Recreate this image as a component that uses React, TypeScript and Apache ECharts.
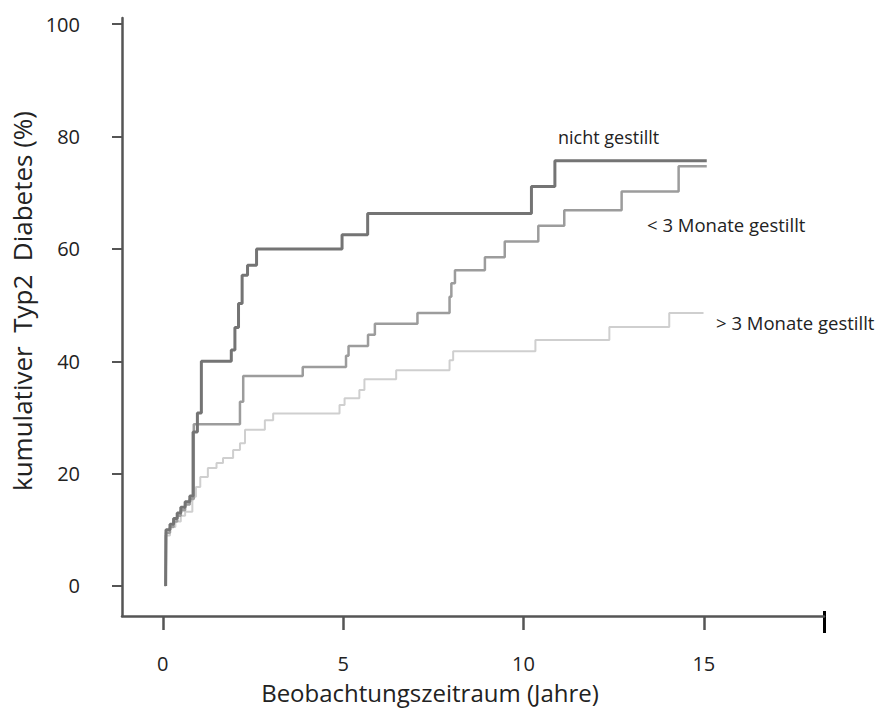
import React, { useEffect, useRef } from "react";
import * as echarts from "echarts";

const xTicks = [0, 5, 10, 15];
const yTicks = [0, 20, 40, 60, 80, 100];

const xTitle = "Beobachtungszeitraum (Jahre)";
const yTitle = "kumulativer  Typ2  Diabetes (%)";

const seriesNames = ["nicht gestillt", "< 3 Monate gestillt", "> 3 Monate gestillt"];

// nicht gestillt (dark)
const nichtT = [0.08, 0.09, 0.2, 0.3, 0.4, 0.5, 0.62, 0.75, 0.84, 0.96, 1.07, 1.9, 2.0, 2.1, 2.2, 2.35, 2.6, 4.97, 5.68, 10.22, 10.87, 15.08];
const nichtV = [0, 10, 11, 12, 13, 14, 15, 16, 27.4, 30.8, 40, 42, 46, 50.3, 55.3, 57.1, 60, 62.5, 66.3, 71.1, 75.7, 75.7];

// < 3 Monate gestillt (medium)
const kurzT = [0.08, 0.09, 0.2, 0.3, 0.4, 0.5, 0.62, 0.75, 0.86, 2.14, 2.23, 3.88, 5.08, 5.15, 5.69, 5.88, 7.06, 7.95, 8.0, 8.1, 8.93, 9.48, 10.41, 11.13, 12.72, 14.3, 15.08];
const kurzV = [0, 9.5, 10.5, 11.5, 12.5, 13.5, 14.5, 15.5, 28.8, 32.8, 37.4, 39.0, 41.0, 42.7, 44.7, 46.7, 48.6, 51.5, 53.9, 56.2, 58.5, 61.3, 64.1, 66.9, 70.2, 74.7, 74.7];

// > 3 Monate gestillt (light)
const langT = [0.05, 0.07, 0.2, 0.35, 0.5, 0.62, 0.82, 0.92, 1.04, 1.25, 1.49, 1.67, 1.95, 2.14, 2.28, 2.83, 3.06, 4.9, 5.04, 5.45, 5.59, 6.47, 7.95, 8.05, 10.33, 12.38, 14.04, 14.99];
const langV = [0, 9, 10.5, 11.5, 12.5, 13.2, 15.9, 17.6, 19.4, 21, 21.9, 22.8, 24.2, 25.4, 27.8, 29.5, 30.7, 32.2, 33.4, 34.9, 36.8, 38.4, 40.2, 41.8, 43.8, 46.1, 48.6, 48.6];

const zip = (t: number[], v: number[]) => t.map((x, i) => [x, v[i]]);

const FONT = "'Open Sans', sans-serif";
const TEXT = "#222";
const AXIS = "#555";

export default function App() {
  const ref = useRef<HTMLDivElement>(null);
  useEffect(() => {
    if (!ref.current) return;
    const chart = echarts.init(ref.current, null, { renderer: "svg" });
    chart.setOption({
      animation: false,
      backgroundColor: "#fff",
      grid: { left: 122, top: 18, right: 57, bottom: 95, containLabel: false },
      xAxis: {
        type: "value",
        min: -1.13,
        max: 18.33,
        axisLine: { show: true, onZero: false, lineStyle: { color: AXIS, width: 2.5 } },
        axisTick: { show: true, customValues: xTicks, length: 14, lineStyle: { color: AXIS, width: 2.5 } },
        axisLabel: { customValues: xTicks, margin: 37, fontSize: 20, color: TEXT, fontFamily: FONT },
        splitLine: { show: false },
      },
      yAxis: {
        type: "value",
        min: -5.34,
        max: 101.1,
        axisLine: { show: true, onZero: false, lineStyle: { color: AXIS, width: 2.5 } },
        axisTick: { show: true, customValues: yTicks, length: 10, lineStyle: { color: AXIS, width: 2 } },
        axisLabel: { customValues: yTicks, margin: 42, fontSize: 20, color: TEXT, fontFamily: FONT },
        splitLine: { show: false },
      },
      series: [
        {
          name: seriesNames[2],
          type: "line",
          step: "end",
          showSymbol: false,
          data: zip(langT, langV),
          lineStyle: { color: "#cfcfcf", width: 2 },
        },
        {
          name: seriesNames[1],
          type: "line",
          step: "end",
          showSymbol: false,
          data: zip(kurzT, kurzV),
          lineStyle: { color: "#9c9c9c", width: 2.5 },
        },
        {
          name: seriesNames[0],
          type: "line",
          step: "end",
          showSymbol: false,
          data: zip(nichtT, nichtV),
          lineStyle: { color: "#747474", width: 3 },
        },
      ],
      graphic: [
        {
          type: "text",
          x: 22,
          y: 301,
          rotation: Math.PI / 2,
          style: { text: yTitle, fill: TEXT, font: `26px ${FONT}`, textAlign: "center", textVerticalAlign: "middle" },
        },
        {
          type: "text",
          x: 430,
          y: 692,
          style: { text: xTitle, fill: TEXT, font: `24px ${FONT}`, textAlign: "center", textVerticalAlign: "middle" },
        },
        {
          type: "text",
          x: 558,
          y: 137,
          style: { text: seriesNames[0], fill: TEXT, font: `18px ${FONT}`, textAlign: "left", textVerticalAlign: "middle" },
        },
        {
          type: "text",
          x: 647,
          y: 224,
          style: { text: seriesNames[1], fill: TEXT, font: `18.5px ${FONT}`, textAlign: "left", textVerticalAlign: "middle" },
        },
        {
          type: "text",
          x: 716,
          y: 322,
          style: { text: seriesNames[2], fill: TEXT, font: `18.5px ${FONT}`, textAlign: "left", textVerticalAlign: "middle" },
        },
        {
          type: "line",
          shape: { x1: 824.5, y1: 611, x2: 824.5, y2: 633 },
          style: { stroke: "#000", lineWidth: 3 },
        },
      ],
    });
    return () => chart.dispose();
  }, []);
  return <div ref={ref} style={{ position: "fixed", left: 0, top: 0, width: 881, height: 711 }} />;
}
